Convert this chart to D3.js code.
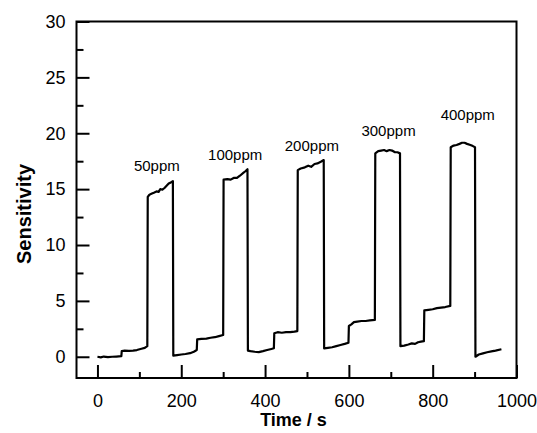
<!DOCTYPE html>
<html>
<head>
<meta charset="utf-8">
<script src="https://cdn.jsdelivr.net/npm/d3@7"></script>
<style>
  html, body { margin: 0; padding: 0; background: #fff; }
  svg { display: block; }
  text { font-family: "Liberation Sans", Arial, Helvetica, sans-serif; fill: #000; }
</style>
</head>
<body>
<svg id="chart" width="537" height="433"></svg>
<script>
// ---- data ----
const time = [
  0, 8, 15, 25, 35, 45, 57, 58, 65, 75, 85, 94, 105, 113, 119,
  120, 124, 130, 136, 141, 146, 150, 155, 160, 165, 170, 175, 180,
  181, 190, 200, 210, 221, 230, 237,
  238, 248, 260, 270, 280, 290, 300,
  301, 310, 318, 325, 333, 340, 348, 353, 358,
  359, 365, 375, 385, 395, 405, 415, 421,
  422, 430, 440, 450, 460, 470, 477,
  478, 485, 495, 503, 510, 518, 525, 533, 540,
  541, 550, 560, 570, 580, 590, 599,
  600, 606, 612, 620, 630, 640, 650, 662,
  663, 670, 677, 684, 690, 697, 703, 710, 716, 722,
  723, 732, 742, 750, 758, 765, 772, 779,
  780, 790, 800, 810, 820, 830, 842,
  843, 850, 857, 864, 870, 876, 882, 890, 896, 901,
  902, 910, 920, 930, 940, 950, 964
];
const sensitivity = [
  0.0, -0.05, 0.02, -0.03, 0.0, 0.02, 0.05, 0.5, 0.55, 0.52, 0.55, 0.6, 0.72, 0.8, 0.95,
  14.3, 14.5, 14.6, 14.7, 14.8, 14.75, 15.0, 14.95, 15.1, 15.3, 15.5, 15.6, 15.72,
  0.1, 0.15, 0.2, 0.25, 0.32, 0.45, 0.6,
  1.55, 1.6, 1.62, 1.7, 1.75, 1.85, 1.95,
  15.85, 15.9, 15.85, 16.0, 16.0, 16.2, 16.45, 16.6, 16.78,
  0.55, 0.5, 0.45, 0.42, 0.5, 0.6, 0.7, 0.76,
  2.1, 2.2, 2.15, 2.2, 2.2, 2.25, 2.3,
  16.7, 16.85, 16.95, 17.1, 17.0, 17.25, 17.3, 17.45, 17.6,
  0.75, 0.8, 0.85, 0.95, 1.05, 1.15, 1.26,
  2.75, 2.9, 3.1, 3.15, 3.2, 3.2, 3.25, 3.3,
  18.2, 18.4, 18.45, 18.5, 18.4, 18.5, 18.45, 18.3, 18.3, 18.2,
  0.95, 1.0, 1.1, 1.2, 1.15, 1.3, 1.35, 1.4,
  4.15, 4.2, 4.25, 4.35, 4.4, 4.45, 4.55,
  18.75, 18.9, 18.95, 19.05, 19.15, 19.15, 19.05, 18.95, 18.85, 18.75,
  0.0, 0.2, 0.3, 0.4, 0.48, 0.55, 0.67
];

const labelText = ["50ppm", "100ppm", "200ppm", "300ppm", "400ppm"];
const labelTime = [87, 264, 447, 630, 819];
const labelSens = [16.6, 17.6, 18.45, 19.75, 21.2];

const xMajorTicks = [0, 200, 400, 600, 800, 1000];
const xMinorTicks = [100, 300, 500, 700, 900];
const yMajorTicks = [0, 5, 10, 15, 20, 25, 30];
const yMinorTicks = [2.5, 7.5, 12.5, 17.5, 22.5, 27.5];

// ---- layout ----
const svg = d3.select("#chart");
const mLeft = 76.5, mRight = 516.5, mTop = 21.5, mBottom = 378;

const x = d3.scaleLinear().domain([-50, 1000]).range([mLeft, mRight]);
const y = d3.scaleLinear().domain([-1.9, 30]).range([mBottom, mTop]);

svg.append("rect").attr("width", 537).attr("height", 433).attr("fill", "#fff");

// axes
function styleAxis(g) {
  g.select(".domain").remove();
  g.selectAll(".tick line").attr("stroke", "#000").attr("stroke-width", 2);
  g.selectAll(".tick text").attr("font-size", 18).attr("fill", "#000")
    .attr("font-family", '"Liberation Sans", Arial, sans-serif');
}

svg.append("g").attr("transform", `translate(0,${mBottom})`)
  .call(d3.axisBottom(x).tickValues(xMajorTicks).tickSize(-13).tickPadding(16).tickFormat(d3.format("d")))
  .call(styleAxis);
svg.append("g").attr("transform", `translate(0,${mBottom})`)
  .call(d3.axisBottom(x).tickValues(xMinorTicks).tickSize(-6).tickFormat(""))
  .call(styleAxis);

svg.append("g").attr("transform", `translate(${mLeft},0)`)
  .call(d3.axisLeft(y).tickValues(yMajorTicks).tickSize(-13).tickPadding(11).tickFormat(d3.format("d")))
  .call(styleAxis);
svg.append("g").attr("transform", `translate(${mLeft},0)`)
  .call(d3.axisLeft(y).tickValues(yMinorTicks).tickSize(-7).tickFormat(""))
  .call(styleAxis);

// frame
svg.append("rect")
  .attr("x", mLeft).attr("y", mTop)
  .attr("width", mRight - mLeft).attr("height", mBottom - mTop)
  .attr("fill", "none").attr("stroke", "#000").attr("stroke-width", 2);

// curve
const pts = time.map((t, i) => [t, sensitivity[i]]);
const line = d3.line().x(d => x(d[0])).y(d => y(d[1]));
svg.append("path")
  .datum(pts)
  .attr("d", line)
  .attr("fill", "none")
  .attr("stroke", "#000")
  .attr("stroke-width", 2.2)
  .attr("stroke-linejoin", "round");

// annotations
svg.append("g").selectAll("text")
  .data(labelText)
  .join("text")
  .attr("x", (d, i) => x(labelTime[i]))
  .attr("y", (d, i) => y(labelSens[i]))
  .attr("font-size", 15)
  .text(d => d);

// axis titles
svg.append("text")
  .attr("x", (mLeft + mRight) / 2 - 3).attr("y", 426)
  .attr("text-anchor", "middle")
  .attr("font-size", 18).attr("font-weight", "bold")
  .text("Time / s");

svg.append("text")
  .attr("transform", `translate(31,214) rotate(-90)`)
  .attr("text-anchor", "middle")
  .attr("font-size", 20).attr("font-weight", "bold")
  .text("Sensitivity");
</script>
</body>
</html>
